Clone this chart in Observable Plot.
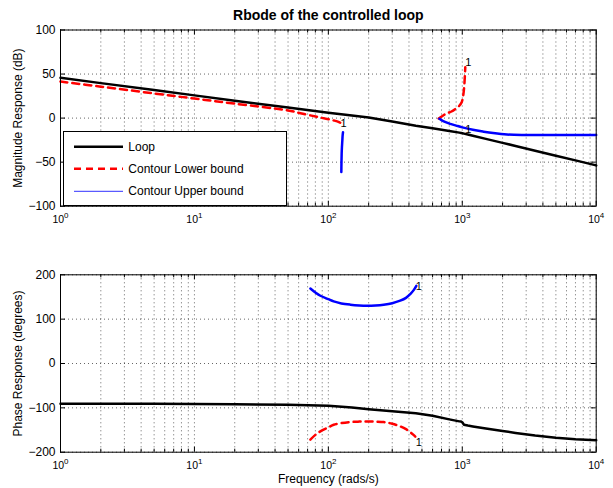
<!DOCTYPE html>
<html>
<head>
<meta charset="utf-8">
<script src="https://cdn.jsdelivr.net/npm/d3@7"></script>
<script src="https://cdn.jsdelivr.net/npm/@observablehq/plot@0.6"></script>
<style>
  body { margin: 0; background: #fff; }
  #chart { position: relative; width: 613px; height: 488px; background: #fff; }
  #chart svg { display: block; }
</style>
</head>
<body>
<div id="chart"></div>
<script>
// ---------- texts ----------
const titleText = "Rbode of the controlled loop";
const magLabel = "Magnitude Response (dB)";
const phaseLabel = "Phase Response (degrees)";
const freqLabel = "Frequency (rads/s)";
const seriesNames = ["Loop", "Contour Lower bound", "Contour Upper bound"];

// ---------- ticks ----------
const xTicks = [1, 10, 100, 1000, 10000];
const magTicks = [-100, -50, 0, 50, 100];
const phaseTicks = [-200, -100, 0, 100, 200];

// ---------- Loop ----------
const loopFreq  = [1, 2, 5, 10, 20, 50, 100, 150, 200, 300, 450, 600, 800, 950, 980, 1000, 1030, 1100, 1200, 1500, 2000, 2500, 3500, 5000, 7000, 10000];
const loopMag   = [45.7, 39.7, 31.8, 25.8, 19.8, 12, 6.2, 3, 0.8, -3.8, -8.6, -11.5, -14.6, -16.5, -16.8, -17.1, -17.6, -18.7, -20.1, -23.6, -28.1, -31.6, -37, -42.7, -48, -53.7];
const loopPhase = [-90.5, -90.6, -90.8, -91.2, -91.8, -93, -95, -99, -103, -107.5, -112, -118, -126, -130.5, -131, -132.5, -138, -140, -142, -146.5, -152, -156.5, -162.5, -167.5, -171, -173];

// ---------- Contour lower bound (magnitude, two pieces) ----------
const lowerMagFreqA = [1, 2, 5, 10, 20, 50, 62, 82, 100, 110, 120, 126, 130];
const lowerMagA     = [41.5, 35.7, 28, 22.2, 16.4, 8.7, 5.5, 1.5, -1.3, -2.7, -4.5, -6.5, -9];
const lowerMagFreqB = [666, 720, 770, 830, 890, 950, 990, 1010, 1025, 1035, 1045, 1053];
const lowerMagB     = [-0.5, 3, 5.5, 7.5, 10.5, 14, 18, 23, 30, 37, 47, 57.7];

// ---------- Contour upper bound (magnitude, two pieces) ----------
const upperMagFreqA = [128.7, 127.8, 127.2, 126.3, 125.7, 125.3, 125];
const upperMagA     = [-16, -20, -25.4, -33, -40.5, -50, -61.3];
const upperMagFreqB = [675, 720, 813, 900, 1000, 1200, 1442, 1700, 2158, 3000, 5000, 10000];
const upperMagB     = [-0.8, -3.5, -6.5, -8.5, -10.5, -13.3, -15.4, -17, -18.6, -19.1, -19.2, -19.2];

// ---------- Contour phases ----------
const upperPhaseFreq = [73.4, 80, 87.2, 100, 109.6, 125, 146, 170, 194, 225, 259, 300, 344, 380, 409, 435, 454];
const upperPhase     = [169, 160, 152.8, 145, 140, 135.5, 132.7, 131, 130.4, 131, 132.7, 136, 141.6, 148, 156.6, 166, 175];
const lowerPhaseFreq = [73.4, 80, 87.2, 100, 109.6, 125, 146, 170, 194, 225, 259, 300, 344, 380, 409, 430, 446];
const lowerPhase     = [-171.6, -161, -153, -144, -138, -134.5, -132, -131, -130.6, -131, -132, -136, -141.8, -148, -155, -160.5, -165];

// ---------- "1" annotations ----------
const magNoteFreq   = [130, 1109, 1109];
const magNoteVal    = [-5.9, 62.8, -13.3];
const phaseNoteFreq = [473, 473];
const phaseNoteVal  = [173.4, -177.2];
const noteText = "1";

// ---------- helpers ----------
const pts = (xs, ys) => xs.map((x, i) => ({x, y: ys[i]}));
const xMinor = [];
for (const dec of [1, 10, 100, 1000]) for (let k = 2; k <= 9; k++) xMinor.push(k * dec);
const xGrid = xTicks.concat(xMinor);
const fmt = d => (d < 0 ? "\u2212" + Math.abs(d) : String(d));
const FONT = "'Liberation Sans', Arial, Helvetica, sans-serif";
const W = 613, ML = 60, MR = 17.3;

const BLACK = {stroke: "#000", strokeWidth: 2.5};
const RED = {stroke: "#ff0000", strokeWidth: 2.5, strokeDasharray: "7,5"};
const BLUE = {stroke: "#0000ff", strokeWidth: 2.5};

function panel({height, mt, mb, yDomain, yTicks, yLabel, lines, notes, extras}) {
  const fw = W - ML - MR, fh = height - mt - mb;
  const grid = {stroke: "#000", strokeOpacity: 0.6, strokeDasharray: "1,3"};
  return Plot.plot({
    width: W, height,
    marginLeft: ML, marginRight: MR, marginTop: mt, marginBottom: mb,
    x: {type: "log", domain: [1, 10000]},
    y: {domain: yDomain},
    style: {fontFamily: FONT, fontSize: "12px", color: "#000", background: "#fff", overflow: "visible"},
    marks: [
      Plot.ruleX(xGrid, grid),
      Plot.ruleY(yTicks, grid),
      ...lines,
      Plot.text(notes, {x: "x", y: "y", text: () => noteText, fontSize: 11, fill: "#000"}),
      Plot.ruleX(xTicks, {insetTop: fh - 5, stroke: "#000"}),
      Plot.ruleX(xTicks, {insetBottom: fh - 5, stroke: "#000"}),
      Plot.ruleX(xMinor, {insetTop: fh - 3, stroke: "#000"}),
      Plot.ruleX(xMinor, {insetBottom: fh - 3, stroke: "#000"}),
      Plot.ruleY(yTicks, {insetRight: fw - 5, stroke: "#000"}),
      Plot.ruleY(yTicks, {insetLeft: fw - 5, stroke: "#000"}),
      Plot.frame({stroke: "#000"}),
      Plot.axisY(yTicks, {tickSize: 0, tickPadding: 5, tickFormat: fmt, label: null, fontSize: 12}),
      Plot.axisX(xTicks, {tickSize: 0, tickPadding: 9.5, tickFormat: d => "10" + Math.round(Math.log10(d)), label: null, fontSize: 10.5}),
      Plot.text([yLabel], {frameAnchor: "left", textAnchor: "middle", rotate: -90, dx: -38.5, lineAnchor: "bottom", fontSize: 12}),
      ...extras
    ]
  });
}

const magPlot = panel({
  height: 240, mt: 29.5, mb: 34.3,
  yDomain: [-100, 100], yTicks: magTicks, yLabel: magLabel,
  lines: [
    Plot.line(pts(loopFreq, loopMag), {x: "x", y: "y", ...BLACK}),
    Plot.line(pts(lowerMagFreqA, lowerMagA), {x: "x", y: "y", ...RED, curve: "catmull-rom"}),
    Plot.line(pts(lowerMagFreqB, lowerMagB), {x: "x", y: "y", ...RED, curve: "catmull-rom"}),
    Plot.line(pts(upperMagFreqA, upperMagA), {x: "x", y: "y", ...BLUE, curve: "catmull-rom"}),
    Plot.line(pts(upperMagFreqB, upperMagB), {x: "x", y: "y", ...BLUE, curve: "catmull-rom"})
  ],
  notes: pts(magNoteFreq, magNoteVal),
  extras: [
    Plot.text([titleText], {frameAnchor: "top", textAnchor: "middle", dy: -10.5, lineAnchor: "bottom", fontSize: 14, fontWeight: "bold"})
  ]
});

const phasePlot = panel({
  height: 248, mt: 34.3, mb: 36.3,
  yDomain: [-200, 200], yTicks: phaseTicks, yLabel: phaseLabel,
  lines: [
    Plot.line(pts(loopFreq, loopPhase), {x: "x", y: "y", ...BLACK}),
    Plot.line(pts(lowerPhaseFreq, lowerPhase), {x: "x", y: "y", ...RED, curve: "catmull-rom"}),
    Plot.line(pts(upperPhaseFreq, upperPhase), {x: "x", y: "y", ...BLUE, curve: "catmull-rom"})
  ],
  notes: pts(phaseNoteFreq, phaseNoteVal),
  extras: [
    Plot.text([freqLabel], {frameAnchor: "bottom", textAnchor: "middle", dy: 30.3, lineAnchor: "bottom", fontSize: 12})
  ]
});

// superscript exponents on the x tick labels
for (const svg of [magPlot, phasePlot]) {
  d3.select(svg).selectAll('g[aria-label="x-axis tick label"] text').each(function () {
    const s = this.textContent;
    const base = s.slice(0, 2), exp = s.slice(2);
    this.textContent = base;
    d3.select(this).append("tspan").attr("dy", -5.3).attr("font-size", 8).text(exp);
  });
}

// legend (inside magnitude panel, lower-left)
{
  const g = d3.select(magPlot).append("g")
    .attr("font-family", FONT).attr("font-size", 12).attr("text-anchor", "start");
  g.append("rect").attr("x", 63.5).attr("y", 131.5).attr("width", 223).attr("height", 74)
    .attr("fill", "#fff").attr("stroke", "#000");
  const styles = [
    {stroke: "#000", w: 2.5, dash: null},
    {stroke: "#ff0000", w: 2.5, dash: "7,5"},
    {stroke: "#5a5aff", w: 1.2, dash: null}
  ];
  const ys = [146.7, 168.7, 191.3];
  seriesNames.forEach((name, i) => {
    const l = g.append("line").attr("x1", 74).attr("x2", 123).attr("y1", ys[i]).attr("y2", ys[i])
      .attr("stroke", styles[i].stroke).attr("stroke-width", styles[i].w);
    if (styles[i].dash) l.attr("stroke-dasharray", styles[i].dash);
    g.append("text").attr("x", 128.3).attr("y", ys[i] + 3.9).attr("fill", "#000")
      .attr("text-anchor", "start").text(name);
  });
}

document.getElementById("chart").append(magPlot, phasePlot);
</script>
</body>
</html>
